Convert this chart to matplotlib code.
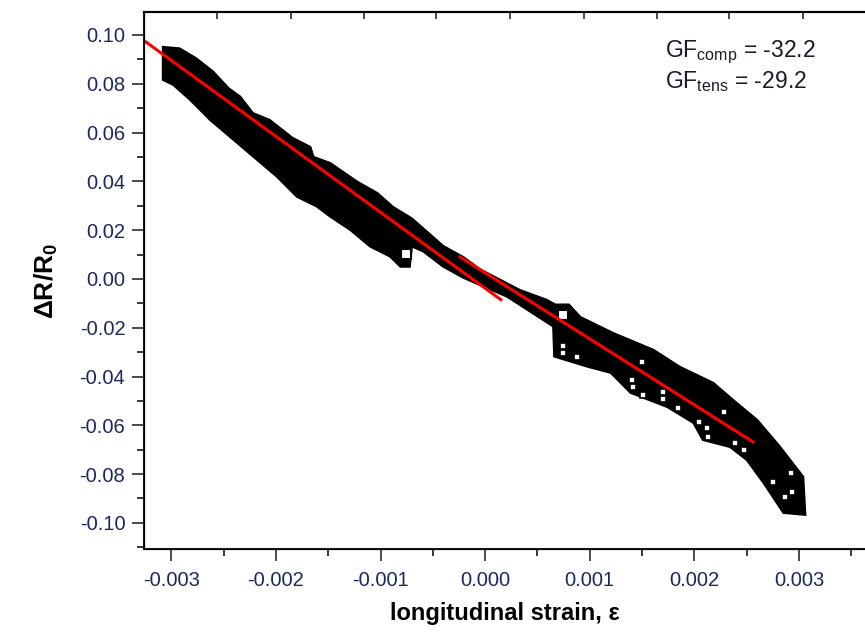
import matplotlib.pyplot as plt
from matplotlib.ticker import MultipleLocator, FuncFormatter

# Arial-like font
plt.rcParams['font.family'] = ['Liberation Sans', 'DejaVu Sans']
plt.rcParams['axes.unicode_minus'] = False
plt.rcParams['mathtext.fontset'] = 'custom'
plt.rcParams['mathtext.rm'] = 'Liberation Sans'
plt.rcParams['mathtext.bf'] = 'Liberation Sans:bold'

# outline of the dense band of measured points (upper edge, left -> right)
upper_x = [-0.00308, -0.00292, -0.00276, -0.00260, -0.00245, -0.00234, -0.00222,
           -0.00206, -0.00184, -0.00167, -0.00164, -0.00148, -0.00122, -0.00103,
           -0.00088, -0.00070, -0.00040, -0.00021, -0.00005, 0.00033, 0.00059,
           0.00067, 0.00080, 0.00091, 0.00122, 0.00161, 0.00186, 0.00218, 0.00237,
           0.00260, 0.00282, 0.00304, 0.00306]
upper_y = [0.0951, 0.0945, 0.0904, 0.0850, 0.0781, 0.0747, 0.0680,
           0.0652, 0.0578, 0.0541, 0.0500, 0.0475, 0.0398, 0.0352,
           0.0295, 0.0248, 0.0135, 0.0090, 0.0040, -0.0045, -0.0086,
           -0.0105, -0.0105, -0.0156, -0.0221, -0.0291, -0.0360, -0.0426, -0.0496,
           -0.0578, -0.0689, -0.0811, -0.0967]

# lower edge of the band, left -> right
lower_x = [-0.00308, -0.00298, -0.00282, -0.00263, -0.00244, -0.00218, -0.00199,
           -0.00180, -0.00161, -0.00148, -0.00129, -0.00110, -0.00091, -0.00081,
           -0.00072, -0.00070, -0.00059, -0.00040, -0.00021, 0.00021, 0.00065,
           0.00066, 0.00098, 0.00120, 0.00139, 0.00174, 0.00199, 0.00208, 0.00234,
           0.00250, 0.00266, 0.00285, 0.00306]
lower_y = [0.0816, 0.0795, 0.0734, 0.0652, 0.0583, 0.0488, 0.0419,
           0.0337, 0.0297, 0.0255, 0.0201, 0.0133, 0.0092, 0.0050,
           0.0050, 0.0133, 0.0112, 0.0050, 0.0005, -0.0073, -0.0195,
           -0.0318, -0.0360, -0.0385, -0.0467, -0.0525, -0.0590, -0.0660, -0.0689,
           -0.0742, -0.0836, -0.0959, -0.0967]

# single open squares visible inside / at the edge of the band
big_sq_x = [-0.00076, 0.00074]
big_sq_y = [0.0102, -0.0148]
small_sq_x = [0.00074, 0.00074, 0.00088, 0.00140, 0.00141, 0.00151, 0.00170, 0.00170,
              0.00184, 0.00204, 0.00212, 0.00213, 0.00228, 0.00239, 0.00247, 0.00275,
              0.00287, 0.00292, 0.00293, 0.00150]
small_sq_y = [-0.0275, -0.0303, -0.0320, -0.0414, -0.0443, -0.0475, -0.0463, -0.0492,
              -0.0529, -0.0586, -0.0610, -0.0648, -0.0545, -0.0672, -0.0701, -0.0832,
              -0.0893, -0.0795, -0.0873, -0.0340]

# linear fits (compression and tension)
comp_x = [-0.00327, 0.00015]
comp_y = [0.0980, -0.0085]
tens_x = [-0.00024, 0.00256]
tens_y = [0.0090, -0.0668]

top_ticks = [-0.00256, -0.00186, -0.00116, -0.00047, 0.00024, 0.00094,
             0.00164, 0.00233, 0.00304]

fig = plt.figure(figsize=(8.65, 6.36), dpi=100)
ax = fig.add_axes([0.1665, 0.1368, 0.8335, 0.8443])

band_x = upper_x + lower_x[::-1]
band_y = upper_y + lower_y[::-1]
ax.fill(band_x, band_y, color='black', lw=1.5, zorder=2)
ax.plot(big_sq_x, big_sq_y, 's', ms=7, mfc='white', mec='black', mew=1.5, zorder=3)
ax.plot(small_sq_x, small_sq_y, 's', ms=4, mfc='white', mec='black', mew=1.2, zorder=3)

ax.plot(comp_x, comp_y, color='red', lw=2.2, zorder=4)
ax.plot(tens_x, tens_y, color='red', lw=2.2, zorder=4)

ax.set_xlim(-0.00326, 0.00363)
ax.set_ylim(-0.1107, 0.1094)
ax.xaxis.set_major_locator(MultipleLocator(0.001))
ax.xaxis.set_minor_locator(MultipleLocator(0.0005))
ax.xaxis.set_major_formatter(FuncFormatter(lambda v, p: f'{round(v, 6) + 0.0:.3f}'))
ax.yaxis.set_major_locator(MultipleLocator(0.02))
ax.yaxis.set_minor_locator(MultipleLocator(0.01))
ax.yaxis.set_major_formatter(FuncFormatter(lambda v, p: f'{round(v, 4) + 0.0:.2f}'))
ax.tick_params(which='major', direction='out', length=8.5, width=1.1, labelsize=14.5)
ax.tick_params(axis='x', which='major', pad=7)
ax.tick_params(axis='y', which='major', pad=5)
ax.tick_params(which='minor', direction='out', length=5, width=1.1)
ax.tick_params(axis='y', colors='#1a1a1a', labelcolor='#1a2a5a')
ax.tick_params(axis='x', colors='#1a1a1a', labelcolor='#1a2a5a')

for s in ['left', 'bottom', 'top']:
    ax.spines[s].set_linewidth(1.5)
    ax.spines[s].set_color('#1a1a1a')
ax.spines['right'].set_visible(False)

# top axis carries its own inward ticks
ax2 = ax.twiny()
ax2.set_xlim(ax.get_xlim())
ax2.set_xticks(top_ticks)
ax2.tick_params(axis='x', direction='in', length=5, width=1.1, labeltop=False, colors='#1a1a1a')
ax2.spines['right'].set_visible(False)
ax2.spines['top'].set_linewidth(1.5)

ax.set_xlabel('longitudinal strain, ε', fontsize=17, fontweight='bold', labelpad=9)
ax.set_ylabel(r'ΔR/R$_\mathbf{0}$', fontsize=19, fontweight='bold', labelpad=14)

ax.text(0.00172, 0.0930, r'GF$_{\rm comp}$ = -32.2', fontsize=16.5, color='#1a1a2a',
        ha='left', va='center')
ax.text(0.00172, 0.0810, r'GF$_{\rm tens}$ = -29.2', fontsize=16.5, color='#1a1a2a',
        ha='left', va='center')

fig.savefig('out.png', dpi=100)
